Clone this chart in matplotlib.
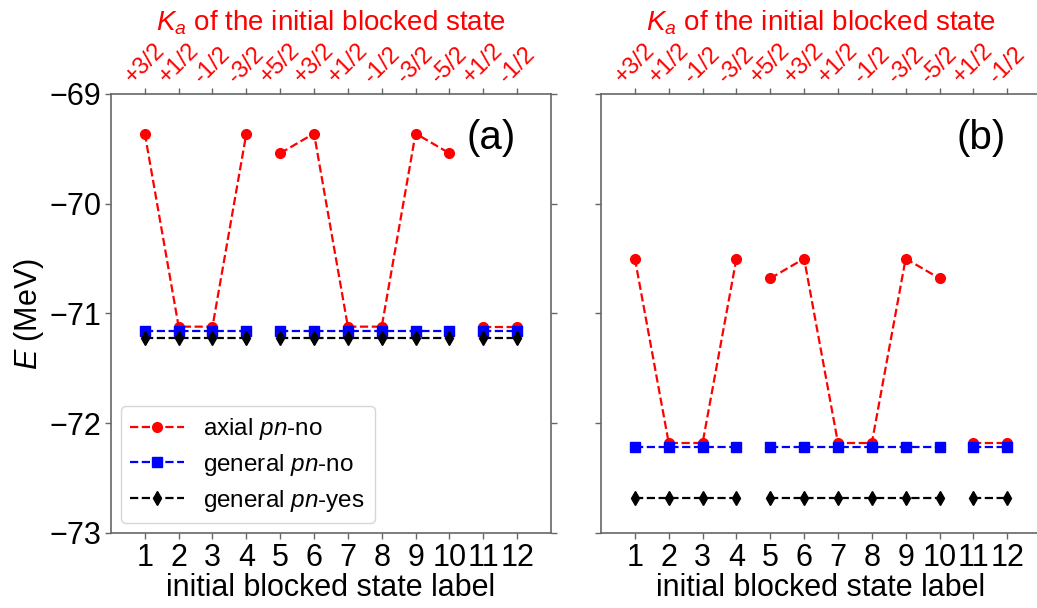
import matplotlib
matplotlib.use("Agg")
import matplotlib.pyplot as plt
import numpy as np

plt.rcParams['font.family'] = ['Liberation Sans', 'DejaVu Sans']
plt.rcParams['mathtext.fontset'] = 'custom'
plt.rcParams['mathtext.rm'] = 'Liberation Sans'
plt.rcParams['mathtext.it'] = 'Liberation Sans:italic'

# blocked state labels and their K values
states = np.arange(1, 13)
ka_labels = ["+3/2", "+1/2", "-1/2", "-3/2", "+5/2", "+3/2",
             "+1/2", "-1/2", "-3/2", "-5/2", "+1/2", "-1/2"]

# energies (MeV), panel (a)
axial_a = [-69.36, -71.12, -71.12, -69.36, -69.54, -69.36,
           -71.12, -71.12, -69.36, -69.54, -71.12, -71.12]
gen_no_a = [-71.16] * 12
gen_yes_a = [-71.22] * 12

# energies (MeV), panel (b)
axial_b = [-70.50, -72.18, -72.18, -70.50, -70.68, -70.50,
           -72.18, -72.18, -70.50, -70.68, -72.18, -72.18]
gen_no_b = [-72.22] * 12
gen_yes_b = [-72.68] * 12

# states grouped into separate blocks (lines are not joined across groups)
groups = [slice(0, 4), slice(4, 10), slice(10, 12)]

styles = [
    dict(color='red', marker='o', markersize=7, label='axial $pn$-no'),
    dict(color='blue', marker='s', markersize=7, label='general $pn$-no'),
    dict(color='black', marker='d', markersize=7, label='general $pn$-yes'),
]

spine_color = '0.4'

fig = plt.figure(figsize=(10.37, 6.08), dpi=100)
ax_a = fig.add_axes([0.1070, 0.1234, 0.4243, 0.7220])
ax_b = fig.add_axes([0.5796, 0.1234, 0.4243, 0.7220], sharey=ax_a)


def draw_panel(ax, series, tag, show_ylabels):
    for values, st in zip(series, styles):
        values = np.asarray(values)
        for i, g in enumerate(groups):
            ax.plot(states[g], values[g], linestyle='--', linewidth=1.6,
                    color=st['color'], marker=st['marker'],
                    markersize=st['markersize'],
                    label=st['label'] if i == 0 else None)
    ax.set_xlim(0, 13)
    ax.set_ylim(-73, -69)
    ax.set_xticks(states)
    ax.set_yticks([-73, -72, -71, -70, -69])
    ax.tick_params(axis='both', labelsize=22, color=spine_color,
                   length=4, width=1, pad=3)
    ax.tick_params(axis='y', right=True)
    if not show_ylabels:
        ax.tick_params(axis='y', labelleft=False)
    for sp in ax.spines.values():
        sp.set_color(spine_color)
        sp.set_linewidth(1.2)
    ax.set_xlabel('initial blocked state label', fontsize=22, labelpad=0)
    ax.text(0.92, 0.90, tag, transform=ax.transAxes, fontsize=29,
            ha='right', va='center')

    # top axis with the K values of each state
    top = ax.twiny()
    top.set_xlim(ax.get_xlim())
    top.set_xticks(states)
    top.set_xticklabels(ka_labels, rotation=45, ha='center',
                        rotation_mode='default', color='red', fontsize=17)
    top.tick_params(axis='x', color=spine_color, length=4, width=1, pad=1)
    for sp in top.spines.values():
        sp.set_visible(False)
    top.set_xlabel('$K_a$ of the initial blocked state', color='red',
                   fontsize=20, labelpad=6)


draw_panel(ax_a, [axial_a, gen_no_a, gen_yes_a], '(a)', True)
draw_panel(ax_b, [axial_b, gen_no_b, gen_yes_b], '(b)', False)

ax_a.set_ylabel('$E$ (MeV)', fontsize=22, labelpad=2)
ax_a.yaxis.set_major_formatter(matplotlib.ticker.FuncFormatter(
    lambda v, p: f"\u2212{abs(int(v))}"))

ax_a.legend(loc='lower left', fontsize=17.5, frameon=True,
            borderaxespad=0.4, handlelength=2.2, labelspacing=0.4)

fig.savefig('out.png', dpi=100)
